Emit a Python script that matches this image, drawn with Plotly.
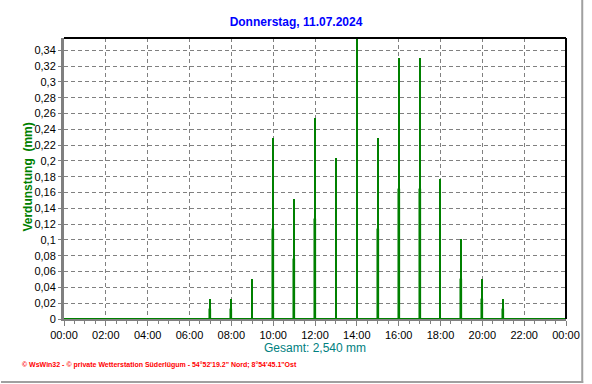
import plotly.graph_objects as go

# ---- data ----
hours = [7, 8, 9, 10, 11, 12, 13, 14, 15, 16, 17, 18, 19, 20, 21]
verdunstung = [0.0254, 0.0254, 0.0508, 0.2286, 0.1524, 0.254, 0.2032, 0.3556,
               0.2286, 0.3302, 0.3302, 0.1778, 0.1016, 0.0508, 0.0254]
hours_b = [7, 8, 10, 11, 12, 15, 16, 17, 19, 20, 21]
verdunstung_b = [0.0127, 0.0127, 0.1143, 0.0762, 0.127, 0.1143, 0.1651,
                 0.1651, 0.0508, 0.0254, 0.0127]
x_tickvals = list(range(0, 25, 2))
x_ticktext = ["00:00", "02:00", "04:00", "06:00", "08:00", "10:00", "12:00",
              "14:00", "16:00", "18:00", "20:00", "22:00", "00:00"]
y_tickvals = [0, 0.02, 0.04, 0.06, 0.08, 0.1, 0.12, 0.14, 0.16, 0.18, 0.2,
              0.22, 0.24, 0.26, 0.28, 0.3, 0.32, 0.34]
y_ticktext = ["0", "0,02", "0,04", "0,06", "0,08", "0,1", "0,12", "0,14", "0,16",
              "0,18", "0,2", "0,22", "0,24", "0,26", "0,28", "0,3", "0,32", "0,34"]

W, H = 592, 384
ML, MR, MT, MB = 64, 18, 38, 65
PW, PH = W - ML - MR, H - MT - MB

def px(x):
    return (x - ML) / PW

def py(y):
    return (H - MB - y) / PH

GREEN = "#008000"
GRAY = "#808080"
FONT = "Liberation Sans, Arial, sans-serif"

fig = go.Figure()
fig.add_trace(go.Bar(x=hours, y=verdunstung, width=0.05,
                     marker=dict(color=GREEN, line=dict(width=0)),
                     hoverinfo="skip"))
fig.add_trace(go.Bar(x=hours_b, y=verdunstung_b, width=0.1,
                     marker=dict(color=GREEN, line=dict(color=GREEN, width=0.5)),
                     hoverinfo="skip"))

fig.update_layout(
    width=W, height=H,
    margin=dict(l=ML, r=MR, t=MT, b=MB, pad=0),
    paper_bgcolor="white", plot_bgcolor="white",
    barmode="overlay", showlegend=False, bargap=0,
    font=dict(family=FONT, size=11, color="black"),
    title=dict(text="<b>Donnerstag, 11.07.2024</b>", x=0.5, xanchor="center",
               y=1 - 22 / H, yanchor="middle",
               font=dict(family=FONT, size=12, color="#0000FF")),
)
fig.update_xaxes(
    range=[0, 24], tickmode="array", tickvals=x_tickvals, ticktext=x_ticktext,
    showgrid=True, gridcolor=GRAY, griddash="4px,3px", gridwidth=1,
    showline=True, linecolor=GRAY, linewidth=2,
    ticks="outside", ticklen=5, tickcolor=GRAY, tickwidth=1,
    minor=dict(tickvals=[h / 2 for h in range(49)], ticks="outside", ticklen=3,
               tickcolor=GRAY, tickwidth=1, showgrid=False),
    zeroline=False, fixedrange=True,
    tickfont=dict(family=FONT, size=11, color="black"),
)
fig.update_yaxes(
    range=[0, 0.3556], tickmode="array", tickvals=y_tickvals, ticktext=y_ticktext,
    showgrid=True, gridcolor=GRAY, griddash="4px,3px", gridwidth=1,
    showline=True, linecolor=GRAY, linewidth=3,
    ticks="outside", ticklen=3, tickcolor=GRAY, tickwidth=1,
    zeroline=False, fixedrange=True,
    tickfont=dict(family=FONT, size=11, color="black"),
)

# green zero line, black top/right frame, gray outer shadow frame
fig.add_shape(type="line", xref="paper", yref="y", x0=0, x1=1, y0=0, y1=0,
              line=dict(color=GREEN, width=2))
fig.add_shape(type="line", xref="paper", yref="paper", x0=0, x1=1, y0=1, y1=1,
              line=dict(color="black", width=2))
fig.add_shape(type="line", xref="paper", yref="paper", x0=1, x1=1, y0=0, y1=1,
              line=dict(color="black", width=2))
fig.add_shape(type="line", xref="paper", yref="paper", x0=px(590.5), x1=px(590.5),
              y0=py(383), y1=py(0), line=dict(color="#A0A0A0", width=2))
fig.add_shape(type="line", xref="paper", yref="paper", x0=px(0), x1=px(591.5),
              y0=py(382), y1=py(382), line=dict(color="#A0A0A0", width=2))

fig.add_annotation(text="<b>Verdunstung  (mm)</b>", textangle=-90,
                   xref="paper", yref="paper", x=px(27), y=py(177),
                   xanchor="center", yanchor="middle", showarrow=False,
                   font=dict(family=FONT, size=12, color=GREEN))
fig.add_annotation(text="Gesamt: 2,540 mm", xref="paper", yref="paper",
                   x=px(319), y=py(348), xanchor="center", yanchor="middle",
                   showarrow=False, font=dict(family=FONT, size=12, color="#008080"))
fig.add_annotation(text="<b>© WsWin32 - © private Wetterstation Süderlügum - 54°52'19.2\" Nord; 8°54'45.1\"Ost</b>",
                   xref="paper", yref="paper", x=px(19), y=py(365),
                   xanchor="left", yanchor="middle", showarrow=False,
                   font=dict(family=FONT, size=7, color="#FF0000"))

fig.write_html("out.html", config={"displayModeBar": False},
               post_script="document.body.style.margin='0';document.body.style.padding='0';")
